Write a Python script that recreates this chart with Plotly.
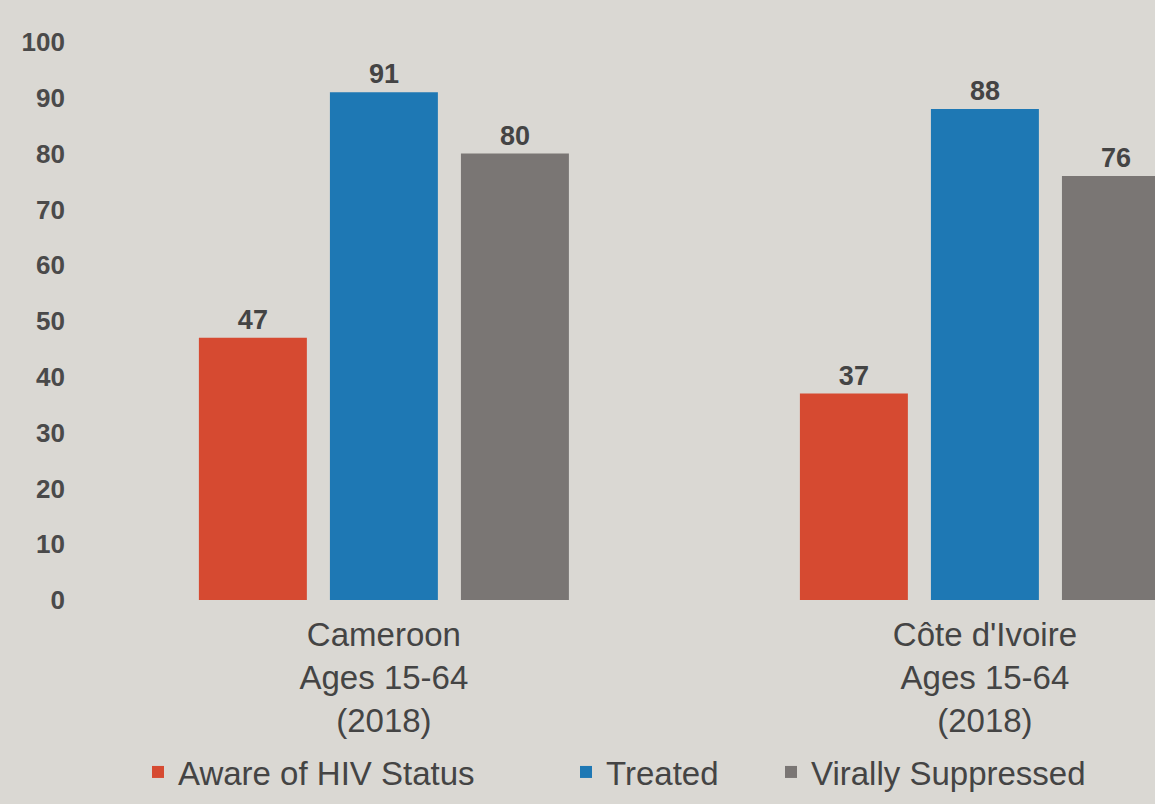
import plotly.graph_objects as go

# Category labels (country, age band, survey year)
countries = [
    "Cameroon<br>Ages 15-64<br>(2018)",
    "Côte d'Ivoire<br>Ages 15-64<br>(2018)",
]

# Percentages for each cascade step
aware = [47, 37]
treated = [91, 88]
suppressed = [80, 76]

series_names = ["Aware of HIV Status", "Treated", "Virally Suppressed"]
series_colors = ["#d64a31", "#1e78b4", "#7a7674"]

y_ticks = [0, 10, 20, 30, 40, 50, 60, 70, 80, 90, 100]

BG = "#dad8d3"
TEXT = "#444444"
FONT = "Liberation Sans, Arial, sans-serif"

fig = go.Figure()
legend_ids = ["legend", "legend2", "legend3"]
for name, vals, color, lg in zip(series_names, [aware, treated, suppressed],
                                 series_colors, legend_ids):
    fig.add_trace(go.Bar(
        x=countries,
        y=vals,
        name=name,
        marker=dict(color=color, line=dict(width=0)),
        text=[f"<b>{v}</b>" for v in vals],
        textposition="outside",
        textfont=dict(size=27, color=TEXT, family=FONT),
        cliponaxis=False,
        legend=lg,
    ))

legend_common = dict(
    orientation="h",
    xref="container",
    yref="container",
    xanchor="left",
    yanchor="middle",
    bgcolor="rgba(0,0,0,0)",
    font=dict(size=33, color=TEXT, family=FONT),
    itemwidth=30,
)

fig.update_layout(
    width=1155,
    height=804,
    margin=dict(l=90, r=0, t=42, b=204),
    paper_bgcolor=BG,
    plot_bgcolor=BG,
    barmode="group",
    bargap=0.346,
    bargroupgap=0.176,
    showlegend=True,
    legend=dict(legend_common, x=138 / 1155, y=1 - 772 / 804),
    legend2=dict(legend_common, x=566 / 1155, y=1 - 772 / 804),
    legend3=dict(legend_common, x=771 / 1155, y=1 - 772 / 804),
    xaxis=dict(
        type="category",
        range=[-0.489, 1.283],
        showgrid=False,
        showline=False,
        zeroline=False,
        ticks="",
        tickfont=dict(size=33, color=TEXT, family=FONT),
        ticklabelstandoff=12,
    ),
    yaxis=dict(
        range=[0, 100],
        tickvals=y_ticks,
        ticktext=[f"<b>{t}</b>" for t in y_ticks],
        showgrid=False,
        showline=False,
        zeroline=False,
        ticks="",
        tickfont=dict(size=26, color="#4a4a4a", family=FONT),
        ticklabelstandoff=24,
    ),
)

fig.write_html("out.html")
